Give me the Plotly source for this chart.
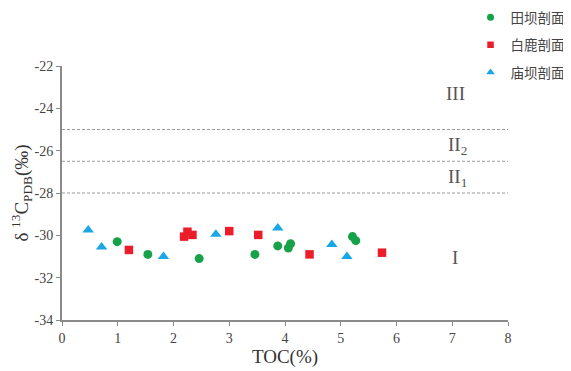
import plotly.graph_objects as go

# ---- data ----
tianba_toc = [0.99, 1.54, 2.46, 3.46, 3.87, 4.06, 4.10, 5.21, 5.27]
tianba_d13c = [-30.3, -30.9, -31.1, -30.9, -30.5, -30.6, -30.4, -30.06, -30.25]

bailu_toc = [1.20, 2.19, 2.25, 2.34, 3.00, 3.52, 4.44, 5.74]
bailu_d13c = [-30.69, -30.06, -29.83, -29.98, -29.8, -29.98, -30.9, -30.82]

miaoba_toc = [0.47, 0.71, 1.82, 2.76, 3.87, 4.84, 5.11]
miaoba_d13c = [-29.75, -30.55, -31.0, -29.95, -29.65, -30.43, -31.0]

thresholds = [-25.0, -26.5, -28.0]
zone_labels = ["III", "II<sub>2</sub>", "II<sub>1</sub>", "I"]
zone_x = [7.05, 7.1, 7.1, 7.05]
zone_y = [-23.3, -25.8, -27.3, -31.05]

x_ticks = [0, 1, 2, 3, 4, 5, 6, 7, 8]
y_ticks = [-22, -24, -26, -28, -30, -32, -34]

serif = "Liberation Serif, Times New Roman, serif"
cjk = "Noto Sans CJK SC, sans-serif"

series = [
    ("田坝剖面", tianba_toc, tianba_d13c, "circle", 9, 7, "#17a24a"),
    ("白鹿剖面", bailu_toc, bailu_d13c, "square", 8.5, 6.5, "#ec1c2a"),
    ("庙坝剖面", miaoba_toc, miaoba_d13c, "triangle-up", 10, 7.5, "#1aa7e8"),
]

fig = go.Figure()
for i, (name, xs, ys, sym, sz, lsz, col) in enumerate(series):
    fig.add_trace(go.Scatter(x=xs, y=ys, mode="markers", name=name, showlegend=False,
                             marker=dict(symbol=sym, size=sz, color=col)))
for i, (name, xs, ys, sym, sz, lsz, col) in enumerate(series):
    fig.add_trace(go.Scatter(x=[None], y=[None], mode="markers", name=name,
                             legendgroup=str(i), showlegend=True,
                             marker=dict(symbol=sym, size=lsz, color=col)))

for t in thresholds:
    fig.add_shape(type="line", xref="x", yref="y", x0=0, x1=8, y0=t, y1=t,
                  line=dict(color="#9a9a9a", width=1, dash="3px,2px"))

for lab, zx, zy in zip(zone_labels, zone_x, zone_y):
    fig.add_annotation(x=zx, y=zy, xref="x", yref="y", text=lab, showarrow=False,
                       font=dict(family=serif, size=19, color="#555"))

fig.update_layout(
    width=563, height=363,
    margin=dict(l=54, r=63, t=58, b=51, autoexpand=False),
    paper_bgcolor="white", plot_bgcolor="white",
    showlegend=True,
    legend=dict(x=0.916, y=1.252, xanchor="left", yanchor="top",
                font=dict(family=cjk, size=13.5, color="#444"),
                tracegroupgap=7, itemsizing="trace", itemwidth=30,
                bgcolor="rgba(0,0,0,0)"),
    xaxis=dict(range=[0, 8], tickvals=x_ticks, ticktext=[str(v) for v in x_ticks],
               automargin=False,
               showgrid=False, zeroline=False, showline=True, linecolor="#8a8a8a", linewidth=1.5,
               ticks="outside", ticklen=4, tickcolor="#8a8a8a",
               tickfont=dict(family=serif, size=14, color="#444"),
               title=dict(text="TOC(%)", font=dict(family=serif, size=19, color="#333"), standoff=4)),
    yaxis=dict(range=[-34, -22], tickvals=y_ticks, ticktext=[str(v) for v in y_ticks],
               automargin=False,
               showgrid=False, zeroline=False, showline=True, linecolor="#8a8a8a", linewidth=2,
               ticks="outside", ticklen=4, tickcolor="#8a8a8a",
               tickfont=dict(family=serif, size=14, color="#444"),
               title=dict(text="δ <sup>13</sup>C<sub>PDB</sub>(‰)",
                          font=dict(family=serif, size=19, color="#333"), standoff=4)),
)

fig.write_html("out.html")
